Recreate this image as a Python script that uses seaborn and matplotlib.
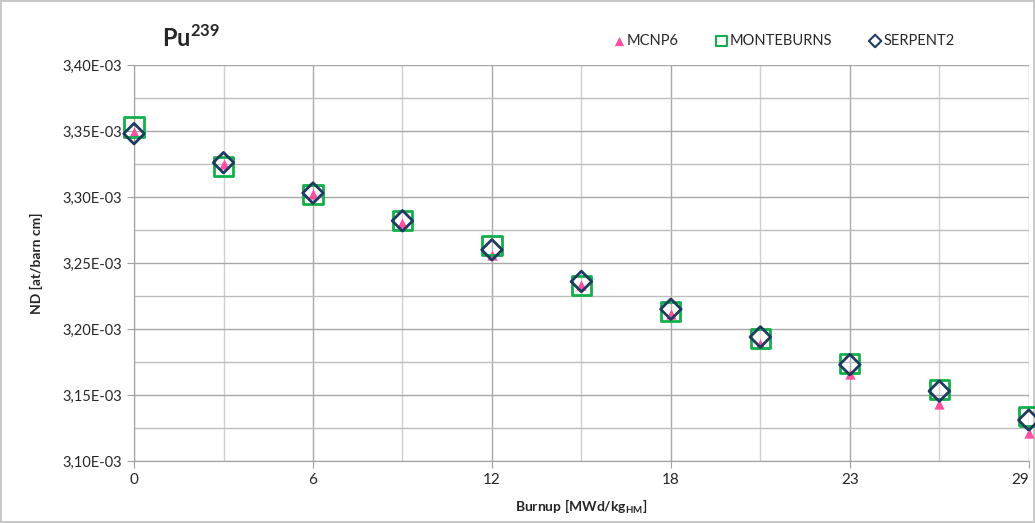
import numpy as np
import pandas as pd
import matplotlib.pyplot as plt
import seaborn as sns
from matplotlib.ticker import FixedLocator, MultipleLocator, FuncFormatter

# burnup steps (categorical axis, like the original spreadsheet chart)
burnup = ["0", "3", "6", "9", "12", "15", "18", "20.5", "23", "26", "29"]

# number densities [at/barn cm]
mcnp6 = [3.349e-3, 3.325e-3, 3.302e-3, 3.280e-3, 3.256e-3, 3.233e-3,
         3.211e-3, 3.189e-3, 3.166e-3, 3.143e-3, 3.121e-3]
monteburns = [3.353e-3, 3.323e-3, 3.302e-3, 3.282e-3, 3.263e-3, 3.233e-3,
              3.213e-3, 3.193e-3, 3.174e-3, 3.154e-3, 3.134e-3]
serpent2 = [3.348e-3, 3.326e-3, 3.303e-3, 3.282e-3, 3.260e-3, 3.236e-3,
            3.215e-3, 3.194e-3, 3.173e-3, 3.153e-3, 3.131e-3]

df = pd.DataFrame({
    "pos": np.arange(len(burnup)),
    "MCNP6": mcnp6,
    "MONTEBURNS": monteburns,
    "SERPENT2": serpent2,
})

sns.set_style("white")
plt.rcParams["font.family"] = ["Lato", "DejaVu Sans"]

fig = plt.figure(figsize=(10.35, 5.23), dpi=100, edgecolor="#C8C8C8", linewidth=1.5)
ax = fig.add_axes([0.1295, 0.1185, 0.8645, 0.7572])

# markers
sns.scatterplot(data=df, x="pos", y="MCNP6", ax=ax, marker="^", s=55,
                color="#FF4FA3", edgecolor="#FF4FA3", linewidth=0, label="MCNP6",
                zorder=3, clip_on=False)
sns.scatterplot(data=df, x="pos", y="MONTEBURNS", ax=ax, marker="s", s=190,
                facecolor="none", edgecolor="#12B04A", linewidth=2, label="MONTEBURNS",
                zorder=4, clip_on=False)
sns.scatterplot(data=df, x="pos", y="SERPENT2", ax=ax, marker="D", s=110,
                facecolor="none", edgecolor="#1F3A5F", linewidth=2, label="SERPENT2",
                zorder=5, clip_on=False)

ax.set_xlim(0, len(burnup) - 1)
ax.set_ylim(3.10e-3, 3.40e-3)

# x ticks: every other category labelled
ax.xaxis.set_major_locator(FixedLocator(df["pos"][::2]))
ax.xaxis.set_minor_locator(FixedLocator(df["pos"][1::2]))
ax.set_xticklabels(burnup[::2], fontsize=11)
ax.get_xticklabels()[-1].set_ha("right")
ax.yaxis.set_major_locator(MultipleLocator(0.05e-3))
ax.yaxis.set_minor_locator(MultipleLocator(0.025e-3))
ax.yaxis.set_major_formatter(FuncFormatter(lambda v, p: f"{v:.2E}".replace(".", ",")))
ax.tick_params(axis="y", labelsize=10.5, length=5, color="#A0A0A0", which="major", left=True)
ax.tick_params(axis="x", labelsize=11, length=5, color="#A0A0A0", which="major", bottom=True)
ax.tick_params(which="minor", length=0)

ax.grid(which="major", axis="both", color="#A8A8A8", linewidth=1)
ax.grid(which="minor", axis="x", color="#CFCFCF", linewidth=1)
ax.grid(which="minor", axis="y", color="#BDBDBD", linewidth=1)
ax.set_axisbelow(True)

for side in ["top", "right"]:
    ax.spines[side].set_visible(False)
for side in ["left", "bottom"]:
    ax.spines[side].set_color("#A0A0A0")

ax.set_xlabel("Burnup [MWd/kg$_{\\mathregular{HM}}$]", fontsize=10, fontweight="bold", labelpad=8)
ax.set_ylabel("ND [at/barn cm]", fontsize=10, fontweight="bold", labelpad=14)

fig.text(0.157, 0.927, "Pu$^{\\mathregular{239}}$", fontsize=17, fontweight="bold", ha="left", va="center")

leg = ax.legend(loc="lower right", bbox_to_anchor=(0.925, 1.025), ncol=3, frameon=False,
                fontsize=10.5, handletextpad=-0.45, columnspacing=1.95, borderpad=0)
for h, sz, lw in zip(leg.legend_handles, [45, 55, 40], [0, 1.5, 1.5]):
    h.set_sizes([sz])
    h.set_linewidth(lw)

fig.savefig("out.png", dpi=100, edgecolor=fig.get_edgecolor())
